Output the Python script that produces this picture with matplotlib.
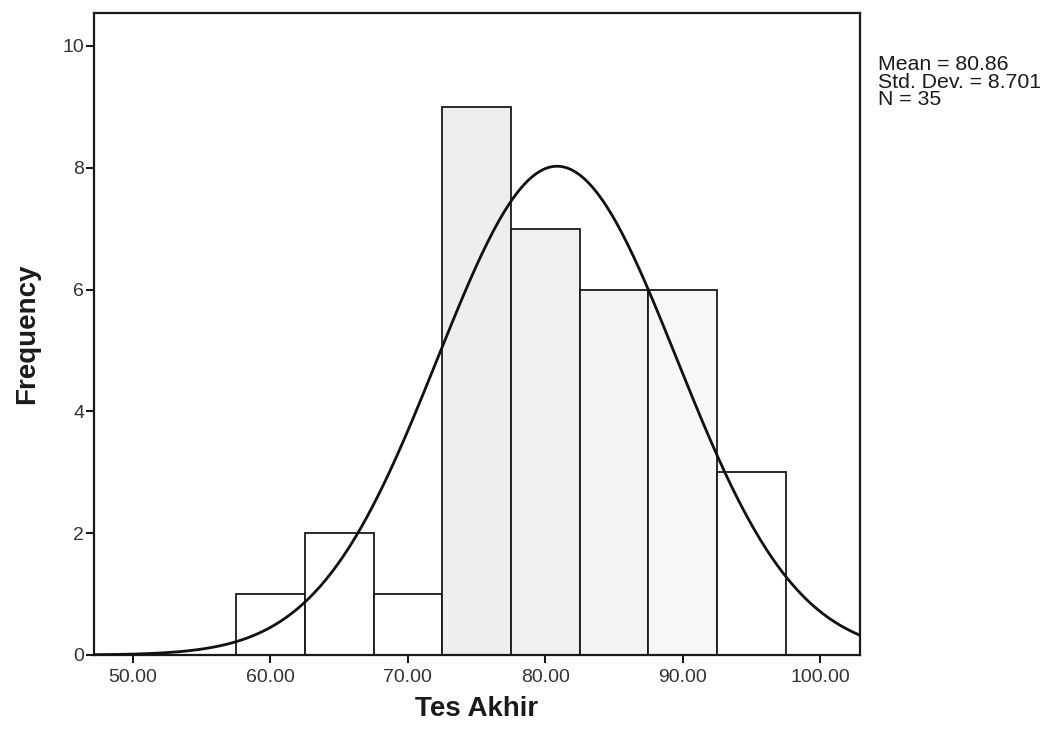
import numpy as np
import matplotlib
matplotlib.use('Agg')
import matplotlib.pyplot as plt

plt.rcParams['font.family'] = ['Liberation Sans', 'DejaVu Sans']

# Данные гистограммы (границы интервалов и частоты)
bin_edges = [57.5, 62.5, 67.5, 72.5, 77.5, 82.5, 87.5, 92.5, 97.5]
freqs = [1, 2, 1, 9, 7, 6, 6, 3]
bar_fill = ['white', 'white', 'white', '#eeeeee', '#f0f0f0', '#f3f3f3', '#f7f7f7', 'white']

mean = 80.86
std = 8.701
n = 35
x_ticks = [50, 60, 70, 80, 90, 100]
y_ticks = [0, 2, 4, 6, 8, 10]

fig = plt.figure(figsize=(10.49, 7.46), dpi=100)
ax = fig.add_axes([0.0896, 0.1220, 0.7302, 0.8606])

widths = np.diff(bin_edges)
ax.bar(bin_edges[:-1], freqs, width=widths, align='edge',
       color=bar_fill, edgecolor='#1a1a1a', linewidth=1.3, zorder=2)

# Нормальная кривая
xs = np.linspace(47.16, 102.9, 400)
bw = widths[0]
ys = n * bw / (std * np.sqrt(2 * np.pi)) * np.exp(-0.5 * ((xs - mean) / std) ** 2)
ax.plot(xs, ys, color='#111111', linewidth=2.0, zorder=3)

ax.set_xlim(47.16, 102.9)
ax.set_ylim(0, 10.54)
ax.set_xticks(x_ticks)
ax.set_xticklabels([f'{v:.2f}' for v in x_ticks], fontsize=14, color='#333333')
ax.set_yticks(y_ticks)
ax.set_yticklabels([str(v) for v in y_ticks], fontsize=14, color='#333333')
ax.tick_params(axis='both', direction='out', length=6, width=1.5, color='#1a1a1a')
ax.tick_params(axis='x', pad=4)
ax.tick_params(axis='y', pad=1)
for s in ax.spines.values():
    s.set_linewidth(1.6)
    s.set_color('#1a1a1a')

ax.set_xlabel('Tes Akhir', fontsize=20, fontweight='bold', labelpad=7, color='#1a1a1a')
ax.set_ylabel('Frequency', fontsize=20, fontweight='bold', labelpad=16, color='#1a1a1a')

fig.text(0.837, 0.926, f'Mean = {mean:.2f}\nStd. Dev. = {std:.3f}\nN = {n}',
         fontsize=15.3, va='top', ha='left', linespacing=0.9, color='#1a1a1a')

plt.savefig('out.png', dpi=100)
